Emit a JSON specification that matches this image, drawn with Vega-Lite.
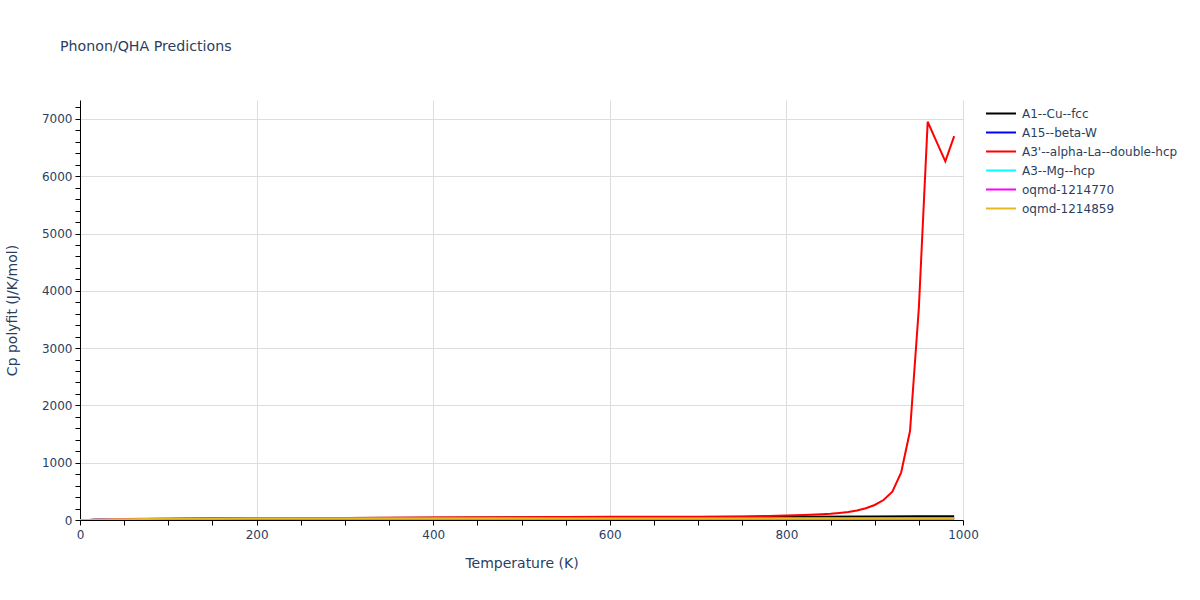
{
  "$schema": "https://vega.github.io/schema/vega-lite/v6.json",
  "width": 883,
  "height": 420,
  "autosize": {"type": "none"},
  "padding": {"left": 80, "top": 100, "right": 237, "bottom": 80},
  "background": "white",
  "title": {
    "text": "Phonon/QHA Predictions",
    "anchor": "start",
    "frame": "group",
    "dx": -20,
    "offset": 46,
    "fontSize": 14.2,
    "font": "DejaVu Sans",
    "fontWeight": "normal",
    "color": "#2a3f5f"
  },
  "config": {
    "view": {"stroke": null},
    "font": "DejaVu Sans"
  },
  "data": {
    "values": [
      {"s": "A1--Cu--fcc", "T": 0, "Cp": 0},
      {"s": "A1--Cu--fcc", "T": 10, "Cp": 0.5},
      {"s": "A1--Cu--fcc", "T": 20, "Cp": 2.5},
      {"s": "A1--Cu--fcc", "T": 30, "Cp": 5},
      {"s": "A1--Cu--fcc", "T": 40, "Cp": 8},
      {"s": "A1--Cu--fcc", "T": 50, "Cp": 10},
      {"s": "A1--Cu--fcc", "T": 75, "Cp": 15},
      {"s": "A1--Cu--fcc", "T": 100, "Cp": 19},
      {"s": "A1--Cu--fcc", "T": 150, "Cp": 25},
      {"s": "A1--Cu--fcc", "T": 200, "Cp": 30},
      {"s": "A1--Cu--fcc", "T": 250, "Cp": 33},
      {"s": "A1--Cu--fcc", "T": 300, "Cp": 35},
      {"s": "A1--Cu--fcc", "T": 400, "Cp": 39},
      {"s": "A1--Cu--fcc", "T": 500, "Cp": 42},
      {"s": "A1--Cu--fcc", "T": 600, "Cp": 47},
      {"s": "A1--Cu--fcc", "T": 700, "Cp": 52},
      {"s": "A1--Cu--fcc", "T": 800, "Cp": 58},
      {"s": "A1--Cu--fcc", "T": 900, "Cp": 62},
      {"s": "A1--Cu--fcc", "T": 950, "Cp": 64},
      {"s": "A1--Cu--fcc", "T": 990, "Cp": 66},

      {"s": "A15--beta-W", "T": 0, "Cp": 0},
      {"s": "A15--beta-W", "T": 10, "Cp": 0.6},
      {"s": "A15--beta-W", "T": 20, "Cp": 3.5},
      {"s": "A15--beta-W", "T": 30, "Cp": 8},
      {"s": "A15--beta-W", "T": 50, "Cp": 15},
      {"s": "A15--beta-W", "T": 100, "Cp": 22},
      {"s": "A15--beta-W", "T": 150, "Cp": 24},
      {"s": "A15--beta-W", "T": 200, "Cp": 24.7},
      {"s": "A15--beta-W", "T": 300, "Cp": 25.2},
      {"s": "A15--beta-W", "T": 500, "Cp": 25.7},
      {"s": "A15--beta-W", "T": 700, "Cp": 26.1},
      {"s": "A15--beta-W", "T": 990, "Cp": 26.6},

      {"s": "A3'--alpha-La--double-hcp", "T": 0, "Cp": 0},
      {"s": "A3'--alpha-La--double-hcp", "T": 10, "Cp": 0.5},
      {"s": "A3'--alpha-La--double-hcp", "T": 20, "Cp": 2.5},
      {"s": "A3'--alpha-La--double-hcp", "T": 30, "Cp": 5},
      {"s": "A3'--alpha-La--double-hcp", "T": 40, "Cp": 8},
      {"s": "A3'--alpha-La--double-hcp", "T": 50, "Cp": 10},
      {"s": "A3'--alpha-La--double-hcp", "T": 75, "Cp": 15},
      {"s": "A3'--alpha-La--double-hcp", "T": 100, "Cp": 19},
      {"s": "A3'--alpha-La--double-hcp", "T": 150, "Cp": 25},
      {"s": "A3'--alpha-La--double-hcp", "T": 200, "Cp": 30},
      {"s": "A3'--alpha-La--double-hcp", "T": 300, "Cp": 37},
      {"s": "A3'--alpha-La--double-hcp", "T": 400, "Cp": 43},
      {"s": "A3'--alpha-La--double-hcp", "T": 500, "Cp": 50},
      {"s": "A3'--alpha-La--double-hcp", "T": 600, "Cp": 55},
      {"s": "A3'--alpha-La--double-hcp", "T": 700, "Cp": 58},
      {"s": "A3'--alpha-La--double-hcp", "T": 750, "Cp": 62},
      {"s": "A3'--alpha-La--double-hcp", "T": 780, "Cp": 70},
      {"s": "A3'--alpha-La--double-hcp", "T": 800, "Cp": 78},
      {"s": "A3'--alpha-La--double-hcp", "T": 820, "Cp": 88},
      {"s": "A3'--alpha-La--double-hcp", "T": 840, "Cp": 102},
      {"s": "A3'--alpha-La--double-hcp", "T": 850, "Cp": 110},
      {"s": "A3'--alpha-La--double-hcp", "T": 860, "Cp": 124},
      {"s": "A3'--alpha-La--double-hcp", "T": 870, "Cp": 140},
      {"s": "A3'--alpha-La--double-hcp", "T": 880, "Cp": 165},
      {"s": "A3'--alpha-La--double-hcp", "T": 890, "Cp": 205},
      {"s": "A3'--alpha-La--double-hcp", "T": 900, "Cp": 262},
      {"s": "A3'--alpha-La--double-hcp", "T": 910, "Cp": 349},
      {"s": "A3'--alpha-La--double-hcp", "T": 920, "Cp": 494},
      {"s": "A3'--alpha-La--double-hcp", "T": 930, "Cp": 832},
      {"s": "A3'--alpha-La--double-hcp", "T": 940, "Cp": 1553},
      {"s": "A3'--alpha-La--double-hcp", "T": 950, "Cp": 3700},
      {"s": "A3'--alpha-La--double-hcp", "T": 960, "Cp": 6950},
      {"s": "A3'--alpha-La--double-hcp", "T": 970, "Cp": 6605},
      {"s": "A3'--alpha-La--double-hcp", "T": 980, "Cp": 6260},
      {"s": "A3'--alpha-La--double-hcp", "T": 990, "Cp": 6700},

      {"s": "A3--Mg--hcp", "T": 0, "Cp": 0},
      {"s": "A3--Mg--hcp", "T": 10, "Cp": 0.4},
      {"s": "A3--Mg--hcp", "T": 20, "Cp": 3},
      {"s": "A3--Mg--hcp", "T": 30, "Cp": 7},
      {"s": "A3--Mg--hcp", "T": 50, "Cp": 14},
      {"s": "A3--Mg--hcp", "T": 100, "Cp": 21},
      {"s": "A3--Mg--hcp", "T": 150, "Cp": 23.5},
      {"s": "A3--Mg--hcp", "T": 200, "Cp": 24.3},
      {"s": "A3--Mg--hcp", "T": 300, "Cp": 24.9},
      {"s": "A3--Mg--hcp", "T": 500, "Cp": 25.4},
      {"s": "A3--Mg--hcp", "T": 700, "Cp": 25.8},
      {"s": "A3--Mg--hcp", "T": 990, "Cp": 26.3},

      {"s": "oqmd-1214770", "T": 0, "Cp": 0},
      {"s": "oqmd-1214770", "T": 10, "Cp": 1},
      {"s": "oqmd-1214770", "T": 20, "Cp": 5},
      {"s": "oqmd-1214770", "T": 30, "Cp": 10},
      {"s": "oqmd-1214770", "T": 40, "Cp": 14},
      {"s": "oqmd-1214770", "T": 50, "Cp": 17},
      {"s": "oqmd-1214770", "T": 75, "Cp": 21},
      {"s": "oqmd-1214770", "T": 100, "Cp": 23},
      {"s": "oqmd-1214770", "T": 150, "Cp": 24.5},
      {"s": "oqmd-1214770", "T": 200, "Cp": 25},
      {"s": "oqmd-1214770", "T": 300, "Cp": 25.5},
      {"s": "oqmd-1214770", "T": 500, "Cp": 26},
      {"s": "oqmd-1214770", "T": 700, "Cp": 26.5},
      {"s": "oqmd-1214770", "T": 990, "Cp": 27},

      {"s": "oqmd-1214859", "T": 0, "Cp": 0},
      {"s": "oqmd-1214859", "T": 10, "Cp": 0.5},
      {"s": "oqmd-1214859", "T": 20, "Cp": 3},
      {"s": "oqmd-1214859", "T": 30, "Cp": 7},
      {"s": "oqmd-1214859", "T": 40, "Cp": 11},
      {"s": "oqmd-1214859", "T": 50, "Cp": 14},
      {"s": "oqmd-1214859", "T": 75, "Cp": 19},
      {"s": "oqmd-1214859", "T": 100, "Cp": 21.5},
      {"s": "oqmd-1214859", "T": 150, "Cp": 23.5},
      {"s": "oqmd-1214859", "T": 200, "Cp": 24.5},
      {"s": "oqmd-1214859", "T": 300, "Cp": 25.2},
      {"s": "oqmd-1214859", "T": 400, "Cp": 25.6},
      {"s": "oqmd-1214859", "T": 500, "Cp": 26},
      {"s": "oqmd-1214859", "T": 600, "Cp": 26.3},
      {"s": "oqmd-1214859", "T": 700, "Cp": 26.6},
      {"s": "oqmd-1214859", "T": 800, "Cp": 27},
      {"s": "oqmd-1214859", "T": 900, "Cp": 27.4},
      {"s": "oqmd-1214859", "T": 990, "Cp": 27.8}
    ]
  },
  "mark": {"type": "line", "strokeWidth": 2, "clip": true},
  "encoding": {
    "x": {
      "field": "T",
      "type": "quantitative",
      "scale": {"domain": [0, 1000], "nice": false, "zero": false},
      "axis": {
        "title": "Temperature (K)",
        "values": [0,50,100,150,200,250,300,350,400,450,500,550,600,650,700,750,800,850,900,950,1000],
        "labelExpr": "datum.value % 200 === 0 ? datum.label : ''",
        "labelOverlap": false,
        "labelFlush": false,
        "format": "d",
        "gridOpacity": {"condition": {"test": "datum.value % 200 === 0 && datum.value > 0", "value": 1}, "value": 0},
        "gridColor": "#dddddd",
        "gridWidth": 1,
        "domainColor": "#000000",
        "domainWidth": 1,
        "tickColor": "#000000",
        "tickSize": 5,
        "labelPadding": 4,
        "labelFontSize": 12,
        "labelColor": "#2a3f5f",
        "labelFont": "DejaVu Sans",
        "titleFontSize": 14,
        "titleFont": "DejaVu Sans",
        "titleFontWeight": "normal",
        "titleColor": "#2a3f5f",
        "titlePadding": 16
      }
    },
    "y": {
      "field": "Cp",
      "type": "quantitative",
      "scale": {"domain": [0, 7330], "nice": false, "zero": false},
      "axis": {
        "title": "Cp polyfit (J/K/mol)",
        "values": [0,200,400,600,800,1000,1200,1400,1600,1800,2000,2200,2400,2600,2800,3000,3200,3400,3600,3800,4000,4200,4400,4600,4800,5000,5200,5400,5600,5800,6000,6200,6400,6600,6800,7000,7200],
        "labelExpr": "datum.value % 1000 === 0 ? datum.label : ''",
        "labelOverlap": false,
        "labelFlush": false,
        "format": "d",
        "gridOpacity": {"condition": {"test": "datum.value % 1000 === 0 && datum.value > 0", "value": 1}, "value": 0},
        "gridColor": "#dddddd",
        "gridWidth": 1,
        "domainColor": "#000000",
        "domainWidth": 1,
        "tickColor": "#000000",
        "tickSize": 5,
        "labelPadding": 3,
        "labelFontSize": 12,
        "labelColor": "#2a3f5f",
        "labelFont": "DejaVu Sans",
        "titleFontSize": 14,
        "titleFont": "DejaVu Sans",
        "titleFontWeight": "normal",
        "titleColor": "#2a3f5f",
        "titlePadding": 22
      }
    },
    "color": {
      "field": "s",
      "type": "nominal",
      "scale": {
        "domain": ["A1--Cu--fcc", "A15--beta-W", "A3'--alpha-La--double-hcp", "A3--Mg--hcp", "oqmd-1214770", "oqmd-1214859"],
        "range": ["#000000", "#0000ff", "#ff0000", "#00ffff", "#ff00ff", "#e8b820"]
      },
      "legend": {
        "title": null,
        "orient": "right",
        "offset": 18,
        "symbolType": "stroke",
        "symbolSize": 900,
        "symbolStrokeWidth": 2,
        "labelFontSize": 12,
        "labelFont": "DejaVu Sans",
        "labelColor": "#2a3f5f",
        "labelOffset": 5,
        "clipHeight": 19,
        "rowPadding": 0,
        "padding": 4
      }
    },
    "order": {"field": "T", "type": "quantitative"}
  }
}
